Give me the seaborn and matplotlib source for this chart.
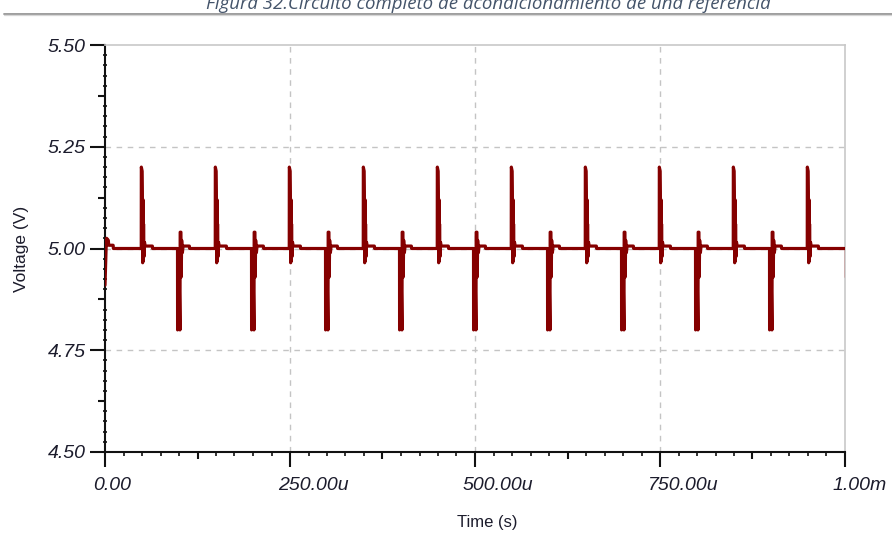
import numpy as np
import pandas as pd
import matplotlib
matplotlib.use("Agg")
import matplotlib.pyplot as plt
import matplotlib.transforms as mtransforms
from matplotlib.lines import Line2D
from matplotlib.ticker import MultipleLocator
import seaborn as sns

# ---- data -----------------------------------------------------------------
# onsets (µs) of the positive and negative glitches and their extreme values (V)
up_onsets_us = [49, 149, 249, 349, 449, 549, 649, 749, 849, 949]
up_peaks_v = [5.20, 5.20, 5.20, 5.20, 5.20, 5.20, 5.20, 5.20, 5.20, 5.20]
down_onsets_us = [98, 198, 298, 398, 498, 598, 698, 798, 898]
down_peaks_v = [4.80, 4.80, 4.80, 4.80, 4.80, 4.80, 4.80, 4.80, 4.80]

# ringing that follows each glitch (offset in µs, value in V); index 1 is the peak
up_shape_dt = [0.0, 0.1, 1.2, 1.5, 1.9, 2.3, 2.7, 3.1, 3.6, 4.4, 5.2, 15.0, 15.3]
up_shape_v = [5.00, 5.20, 5.19, 5.14, 4.965, 5.12, 4.97, 5.06, 4.98, 5.015, 5.006, 5.006, 5.00]
down_shape_dt = [0.0, 0.1, 2.3, 2.5, 3.3, 3.6, 4.6, 5.0, 5.6, 6.6, 7.5, 16.0, 16.3]
down_shape_v = [5.00, 4.80, 4.89, 4.90, 4.80, 5.04, 5.04, 4.93, 5.02, 4.99, 5.006, 5.006, 5.00]

# start-up transient and the final sample
start_t_us = [0.0, 1.8, 2.2, 4.5, 5.0, 11.0, 11.3]
start_v = [4.91, 5.02, 5.025, 5.02, 5.008, 5.008, 5.00]
end_t_us = [999.6, 1000.0]
end_v = [5.00, 4.93]

x_tick_us = [0, 250, 500, 750, 1000]
x_tick_labels = ["0.00", "250.00u", "500.00u", "750.00u", "1.00m"]
y_ticks = [4.50, 4.75, 5.00, 5.25, 5.50]
y_tick_labels = ["4.50", "4.75", "5.00", "5.25", "5.50"]

title = "Figura 32.Circuito completo de acondicionamiento de una referencia"

# ---- assemble the trace ---------------------------------------------------
t_parts = [np.array(start_t_us)]
v_parts = [np.array(start_v)]
for t0, pk in zip(up_onsets_us, up_peaks_v):
    v = list(up_shape_v)
    v[1] = pk
    t_parts.append(t0 + np.array(up_shape_dt))
    v_parts.append(np.array(v))
for t0, pk in zip(down_onsets_us, down_peaks_v):
    v = list(down_shape_v)
    v[1] = pk
    t_parts.append(t0 + np.array(down_shape_dt))
    v_parts.append(np.array(v))
t_parts.append(np.array(end_t_us[:1]))
v_parts.append(np.array(end_v[:1]))

t_all = np.concatenate(t_parts)
v_all = np.concatenate(v_parts)
order = np.argsort(t_all, kind="stable")
df = pd.DataFrame({"Time (s)": t_all[order] * 1e-6, "Voltage (V)": v_all[order]})
df_end = pd.DataFrame({"Time (s)": np.array([end_t_us[1], end_t_us[1]]) * 1e-6,
                       "Voltage (V)": [end_v[0], end_v[1]]})

# ---- figure ---------------------------------------------------------------
sns.set_style("white", {"xtick.bottom": True, "ytick.left": True})
plt.rcParams["font.family"] = ["Liberation Sans", "DejaVu Sans"]

W, H, DPI = 892, 541, 100
fig = plt.figure(figsize=(W / DPI, H / DPI), dpi=DPI)
ax_l, ax_r, ax_t, ax_b = 105, 845, 45, 452
ax = fig.add_axes([ax_l / W, 1 - ax_b / H, (ax_r - ax_l) / W, (ax_b - ax_t) / H])

trace_color = "#850000"
sns.lineplot(data=df, x="Time (s)", y="Voltage (V)", ax=ax, color=trace_color,
             linewidth=2.3, estimator=None, sort=False, zorder=3)
sns.lineplot(data=df_end, x="Time (s)", y="Voltage (V)", ax=ax, color="#b02020",
             linewidth=1.0, estimator=None, sort=False, zorder=3)

ax.set_xlim(0, 1e-3)
ax.set_ylim(4.5, 5.5)

# major ticks every half division; the in-between ones are drawn shorter and unlabeled
x_major = np.arange(0, 1000.1, 125) * 1e-6
y_major = np.arange(4.5, 5.501, 0.125)
ax.set_xticks(x_major)
ax.set_xticklabels([x_tick_labels[x_tick_us.index(int(round(v * 1e6)))]
                    if int(round(v * 1e6)) in x_tick_us else "" for v in x_major])
ax.set_yticks(y_major)
ax.set_yticklabels([y_tick_labels[y_ticks.index(round(v, 3))]
                    if round(v, 3) in y_ticks else "" for v in y_major])
ax.xaxis.set_minor_locator(MultipleLocator(25e-6))
ax.yaxis.set_minor_locator(MultipleLocator(0.025))

ax.tick_params(axis="both", which="both", bottom=True, left=True, top=False, right=False)
ax.tick_params(axis="both", which="major", direction="out", length=11, width=1.5,
               color="#111111", labelsize=14, labelcolor="#1c1c2c")
ax.tick_params(axis="x", which="major", pad=7)
ax.tick_params(axis="y", which="major", pad=3)
ax.tick_params(axis="x", which="minor", direction="out", length=3, width=1.2, color="#111111")
ax.tick_params(axis="y", which="minor", direction="inout", length=3, width=1.2, color="#111111")

ax.grid(True, which="major", color="#c4c4c4", linestyle=(0, (4, 4)), linewidth=1.0)
ax.set_axisbelow(True)

for i, tick in enumerate(ax.xaxis.get_major_ticks()):
    us = int(round(x_major[i] * 1e6))
    if us not in x_tick_us:
        tick.tick1line.set_markersize(5)
    if us not in (250, 500, 750):
        tick.gridline.set_visible(False)
for i, tick in enumerate(ax.yaxis.get_major_ticks()):
    v = round(y_major[i], 3)
    if v not in y_ticks:
        tick.tick1line.set_markersize(5)
    if v not in (4.75, 5.0, 5.25):
        tick.gridline.set_visible(False)

shift = mtransforms.ScaledTranslation(-12 / DPI, 0, fig.dpi_scale_trans)
for lab in ax.get_xticklabels():
    lab.set_fontstyle("italic")
    lab.set_horizontalalignment("left")
    lab.set_transform(lab.get_transform() + shift)
for lab in ax.get_yticklabels():
    lab.set_fontstyle("italic")

for side in ("left", "bottom"):
    ax.spines[side].set_color("#111111")
    ax.spines[side].set_linewidth(1.5)
for side in ("top", "right"):
    ax.spines[side].set_color("#c8c8c8")
    ax.spines[side].set_linewidth(1.2)

ax.set_xlabel("Time (s)", fontsize=12, color="#1c1c2c", va="center")
ax.xaxis.set_label_coords((487 - ax_l) / (ax_r - ax_l), (ax_b - 522) / (ax_b - ax_t))
ax.set_ylabel("Voltage (V)", fontsize=12.5, color="#1c1c2c", va="center")
ax.yaxis.set_label_coords((21 - ax_l) / (ax_r - ax_l), 0.5)

# caption above the plot, partly running off the top edge
cap = fig.text(488 / W, 1 - 9 / H, title, ha="center", va="baseline",
               fontsize=11, fontstyle="italic", color="#44546a",
               family=["Open Sans", "DejaVu Sans"])
fig.canvas.draw()
w = cap.get_window_extent().width
cap.set_fontsize(11 * 565 / w)

fig.add_artist(Line2D([4 / W, 1], [1 - 13.5 / H] * 2, transform=fig.transFigure,
                      color="#959595", linewidth=1.3))
fig.add_artist(Line2D([4 / W, 1], [1 - 15.2 / H] * 2, transform=fig.transFigure,
                      color="#d6d6d6", linewidth=0.9))

fig.savefig("out.png", dpi=DPI)
